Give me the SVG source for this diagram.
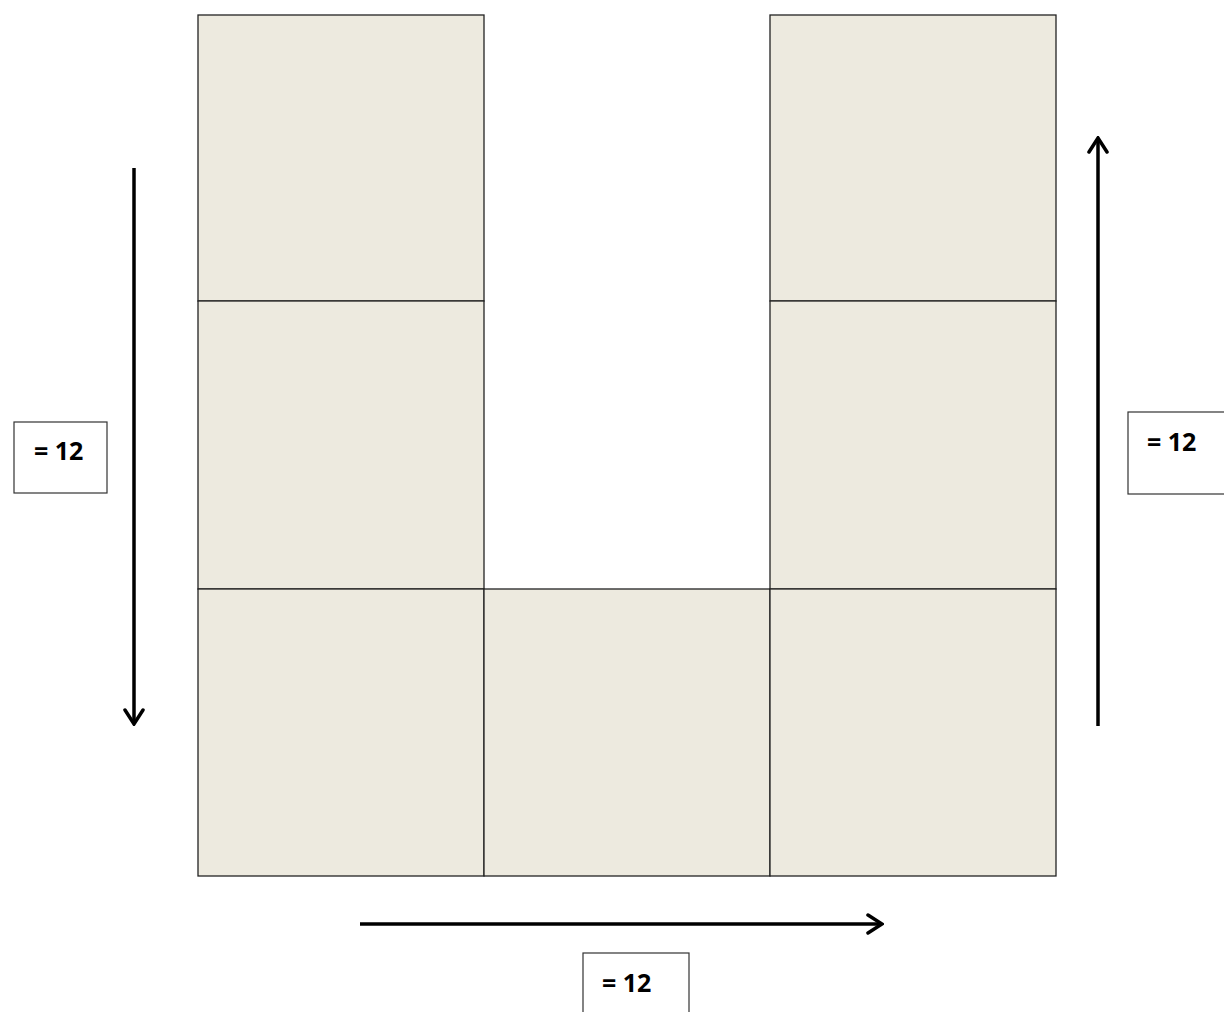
<svg xmlns="http://www.w3.org/2000/svg" width="1224" height="1012" viewBox="0 0 1224 1012">
<defs>
<style>
.sq{fill:#EDEADF;stroke:#222;stroke-width:1.3}
.lb{fill:#fff;stroke:#333;stroke-width:1.2}
.tx{font-family:"Open Sans","Liberation Sans",sans-serif;font-weight:bold;font-size:25px;fill:#000}
.ar{stroke:#000;stroke-width:3.5;fill:none}
</style>
<marker id="chev" viewBox="0 0 20 24" refX="18" refY="12" markerWidth="20" markerHeight="24" markerUnits="userSpaceOnUse" orient="auto">
<path d="M4,3 L18,12 L4,21" fill="none" stroke="#000" stroke-width="3.5" stroke-linecap="round" stroke-linejoin="miter"/>
</marker>
</defs>
<rect width="1224" height="1012" fill="#fff"/>
<g id="squares">
<g id="sq-l1"><rect class="sq" x="198" y="15" width="286" height="286"/></g>
<g id="sq-l2"><rect class="sq" x="198" y="301" width="286" height="288"/></g>
<g id="sq-l3"><rect class="sq" x="198" y="589" width="286" height="287"/></g>
<g id="sq-m3"><rect class="sq" x="484" y="589" width="286" height="287"/></g>
<g id="sq-r1"><rect class="sq" x="770" y="15" width="286" height="286"/></g>
<g id="sq-r2"><rect class="sq" x="770" y="301" width="286" height="288"/></g>
<g id="sq-r3"><rect class="sq" x="770" y="589" width="286" height="287"/></g>
</g>
<g id="connectors">
<line class="ar" x1="134" y1="168" x2="134" y2="724" marker-end="url(#chev)"/>
<line class="ar" x1="1098" y1="726" x2="1098" y2="138" marker-end="url(#chev)"/>
<line class="ar" x1="360" y1="924" x2="882" y2="924" marker-end="url(#chev)"/>
</g>
<g id="label-left"><rect class="lb" x="14" y="422" width="93" height="71"/><text class="tx" x="34" y="460">= 12</text></g>
<g id="label-right"><rect class="lb" x="1128" y="412" width="100" height="82"/><text class="tx" x="1147" y="451">= 12</text></g>
<g id="label-bottom"><rect class="lb" x="583" y="953" width="106" height="64"/><text class="tx" x="602" y="992">= 12</text></g>
</svg>
